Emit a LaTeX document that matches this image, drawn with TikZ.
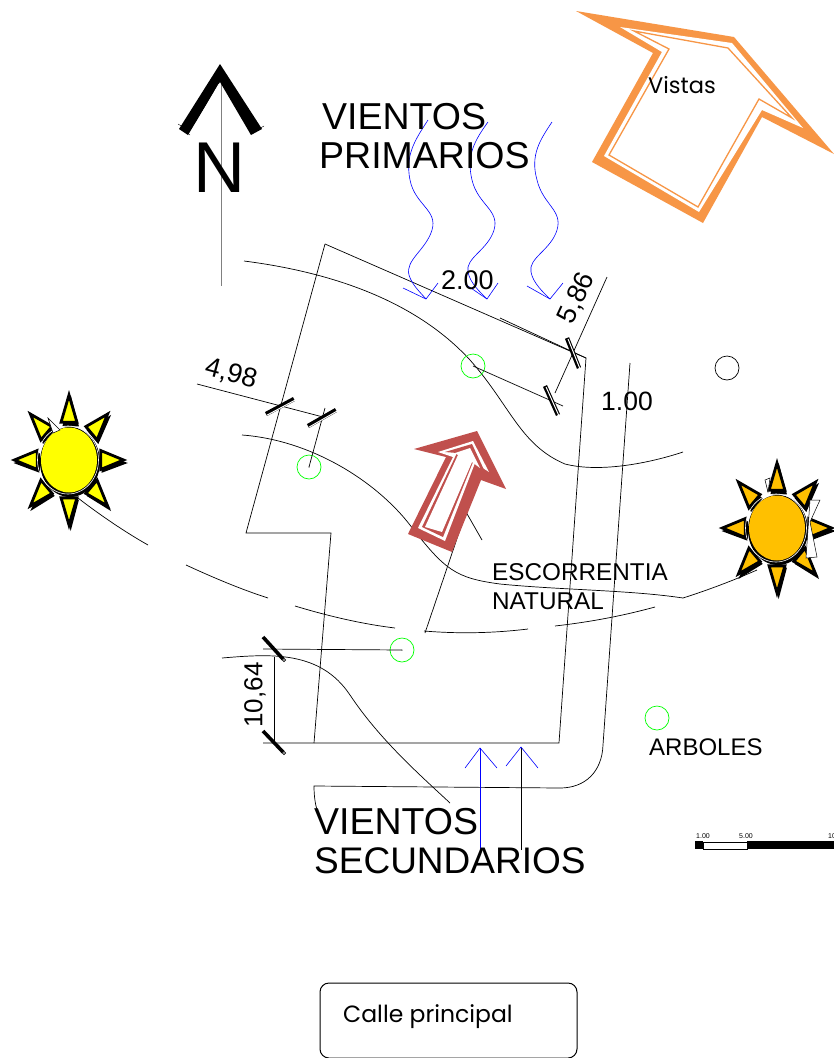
\documentclass[tikz,border=0pt]{standalone}
\usepackage{fontspec}
\setmainfont{Liberation Sans}
\newfontfamily\vistafont{Poppins}
\usetikzlibrary{calc}
\definecolor{naranja}{HTML}{F79646}
\definecolor{rojizo}{HTML}{C0504D}
\definecolor{amarillo}{HTML}{FFFF00}
\definecolor{ambar}{HTML}{FFC000}
\tikzset{
  curva/.style={black,line width=0.7pt},
  viento/.style={blue,line width=0.6pt},
  arbol/.style={circle,draw=green,line width=0.7pt,minimum size=24pt,inner sep=0pt},
  dimtick/.style={line width=4.4pt,line cap=butt,postaction={draw=white,line width=1pt,transform canvas={shift={(1.1pt,-1.1pt)}}}},
  dimbar/.style={line width=3.6pt,line cap=butt},
  rotulo/.style={anchor=base west,inner sep=0pt},
  pics/sol/.style={code={
    \begin{scope}[xscale=0.84]
    \foreach \a in {0,45,...,315}{
      \fill[black,shift={(2,3)}] (\a:68)--(\a+15:38)--(\a-15:38)--cycle;
      \draw[line width=2.8pt,miter limit=10,fill=#1] (\a:65)--(\a+14:39)--(\a-14:39)--cycle;
    }
    \end{scope}
    \fill[black] (1,2) ellipse (30 and 35);
    \draw[white,line width=0.6pt] (-1,0) ellipse (30.5 and 34);
    \fill[#1] (0,0) ellipse (28 and 32.5);
  }}
}
\begin{document}
\begin{tikzpicture}[x=1pt,y=-1pt]
\clip (0,0) rectangle (834,1058);
\fill[white] (0,0) rectangle (834,1058);
% norte
\draw[curva,gray] (221,82)--(221,286);
\fill (220,64)--(262,129)--(251,135)--(220,82)--(188,135)--(179,129)--cycle;
\draw[white,line width=0.8pt] (219,84)--(190,134);
\draw[line width=0.4pt] (178,124)--(190,131) (183,130)--(190,135) (250,134)--(264,126);
\node[rotulo,font=\fontsize{72}{72}\selectfont] (norte) at (193,192) {N};
% vistas
\fill[naranja] (576,11)--(734,37)--(834,154)--(762,117)--(703,223)--(592,162)--(653,53)--cycle;
\fill[white] (620,27)--(732,43)--(803,128)--(762,110)--(699,212)--(604,156)--(662,52)--cycle;
\draw[naranja,line width=1.3pt] (634,31)--(728,48)--(792,118)--(759,99)--(698,207)--(609,155)--(669,49)--cycle;
\node[rotulo,font=\vistafont\fontsize{22.5}{22.5}\selectfont] (vistas) at (648,93) {Vistas};
% terreno
\draw[curva] (325,244)--(586,358)--(559,743)--(263,743);
\draw[curva] (314,743)--(331,533)--(246,533)--(325,244);
\draw[curva] (500,318)--(586,358);
\draw[curva] (630,363)--(603,745) .. controls (602,772) and (585,788) .. (560,788)--(314,786) .. controls (314,795) and (315,803) .. (317,810);
% curvas de nivel
\draw[curva] (244,261) .. controls (330,272) and (415,300) .. (470,360) .. controls (510,405) and (520,445) .. (565,464) .. controls (600,473) and (650,463) .. (683,452);
\draw[curva] (242,435) .. controls (310,440) and (375,480) .. (410,525) .. controls (445,570) and (455,578) .. (500,584) .. controls (560,590) and (630,590) .. (683,598);
\draw[curva] (222,658) .. controls (270,654) and (320,650) .. (350,695) .. controls (380,740) and (420,775) .. (450,803);
% recorrido del sol
\draw[curva] (78,498) .. controls (100,515) and (125,532) .. (148,545);
\draw[curva] (186,565) .. controls (212,577) and (240,589) .. (268,598);
\draw[curva] (295,606) .. controls (328,616) and (362,624) .. (395,628);
\draw[curva] (424,631) .. controls (460,634) and (495,633) .. (528,629);
\draw[curva] (555,626) .. controls (590,622) and (622,616) .. (655,607);
\draw[curva] (683,598) .. controls (708,590) and (732,581) .. (757,570);
% vientos
\draw[viento] (428,120) .. controls (415,140) and (405,155) .. (410,180) .. controls (415,205) and (438,210) .. (432,230) .. controls (426,250) and (405,260) .. (409,275) .. controls (412,285) and (420,292) .. (426,299);
\draw[viento] (488,122) .. controls (475,140) and (466,155) .. (472,180) .. controls (478,205) and (500,210) .. (494,230) .. controls (488,250) and (465,258) .. (468,272) .. controls (470,283) and (480,292) .. (487,299);
\draw[viento] (552,122) .. controls (540,140) and (530,155) .. (537,180) .. controls (543,205) and (563,210) .. (557,230) .. controls (551,250) and (528,258) .. (531,272) .. controls (533,283) and (543,292) .. (550,299);
\draw[viento] (403,288)--(426,299)--(438,283);
\draw[viento] (465,284)--(487,299)--(498,283);
\draw[viento] (527,286)--(550,299)--(563,283);
\draw[viento] (480,852)--(480,748);
\draw[viento] (465,768)--(480,748)--(497,768);
\draw[curva] (521,850)--(521,748);
\draw[viento] (506,766)--(521,747)--(538,768);
% arboles
\node[arbol] (arbol1) at (309,467) {};
\node[arbol] (arbol2) at (473,366) {};
\node[arbol] (arbol3) at (402,650) {};
\node[arbol] (arbol4) at (657,718) {};
\node[circle,draw=black,line width=0.7pt,minimum size=24pt,inner sep=0pt] (hito) at (727,368) {};
\fill (arbol1.center) circle (0.5) (arbol3.center) circle (0.5);
% cotas
\draw[curva] (197,384)--(323,417);
\draw[curva] (325,408)--(arbol1.center);
\draw[dimtick] (266,414)--(294,399);
\draw[dimtick] (308,426)--(336,410);
\draw[curva] (607,277)--(555,393);
\draw[curva] (arbol2.center)--(563,406);
\draw[dimtick] (567,338)--(579,368);
\draw[dimtick] (545,386)--(558,415);
\draw[curva] (263,649)--(arbol3.center);
\draw[curva] (274,657)--(274,743);
\draw[dimbar] (263,637)--(283,659);
\draw[dimbar] (263,731)--(283,752);
\draw[line width=0.6pt,fill=white] (284,660) circle (1.6) (284,753) circle (1.6);
\draw[curva] (425,633)--(466,512)--(482,540);
\node[font=\fontsize{27}{27}\selectfont,rotate=-15] (cota1) at (231,374) {4,98};
\node[font=\fontsize{27}{27}\selectfont,rotate=65] (cota2) at (577,298) {5,86};
\node[font=\fontsize{26}{26}\selectfont,rotate=90] (cota3) at (255,695) {10,64};
\node[rotulo,font=\fontsize{27}{27}\selectfont] (nivel1) at (441,289) {2.00};
\node[rotulo,font=\fontsize{26.5}{26.5}\selectfont] (nivel2) at (601,410) {1.00};
% escorrentia
\fill[rojizo] (414,449)--(477,431)--(506,489)--(481,480)--(452,552)--(408,534)--(446,457)--cycle;
\fill[white] (438,452)--(473,441)--(489,472)--(475,463)--(445,541)--(418,528)--(453,457)--cycle;
\fill[rojizo] (445,452)--(472,444)--(485,472)--(473,462)--(443,537)--(422,527)--(457,453)--cycle;
\fill[white] (455,453)--(470,448)--(480,468)--(472,462)--(442,532)--(425,527)--(458,455)--cycle;
% soles
\pic at (69,460) {sol=amarillo};
\pic at (777,528) {sol=ambar};
\draw[line width=0.5pt,fill=white] (48,418)--(60,430)--(53,433)--cycle;
\draw[line width=0.5pt,fill=white] (765,480)--(770,478)--(768,492)--cycle;
\draw[line width=0.5pt,fill=white] (810,500)--(820,500)--(810,522)--(817,557)--(806,558)--cycle;
% textos
\node[rotulo,font=\fontsize{37.5}{37.5}\selectfont] (primarios1) at (322,129) {VIENTOS};
\node[rotulo,font=\fontsize{37.5}{37.5}\selectfont] (primarios2) at (319,168) {PRIMARIOS};
\node[rotulo,font=\fontsize{37.5}{37.5}\selectfont] (secundarios1) at (314,834) {VIENTOS};
\node[rotulo,font=\fontsize{37}{37}\selectfont] (secundarios2) at (314,873) {SECUNDARIOS};
\node[rotulo,font=\fontsize{24.3}{24.3}\selectfont] (escorrentia1) at (492,580) {ESCORRENTIA};
\node[rotulo,font=\fontsize{24.3}{24.3}\selectfont] (escorrentia2) at (492,609) {NATURAL};
\node[rotulo,font=\fontsize{24}{24}\selectfont] (arboles) at (649,755) {ARBOLES};
% escala
\draw[line width=0.8pt] (703,842) rectangle (747,849);
\fill (695,841) rectangle (703,849);
\fill (747,841) rectangle (834,849);
\node[font=\fontsize{7}{7}\selectfont] (esc1) at (703,836) {1.00};
\node[font=\fontsize{7}{7}\selectfont] (esc2) at (746,836) {5.00};
\node[font=\fontsize{7}{7}\selectfont] (esc3) at (832,836) {10};
% calle
\draw[line width=1pt,rounded corners=9pt] (320,1058)--(320,983)--(577,983)--(577,1058)--cycle;
\node[rotulo,font=\vistafont\fontsize{23.5}{23.5}\selectfont] (calle) at (343,1022) {Calle principal};
\end{tikzpicture}
\end{document}
